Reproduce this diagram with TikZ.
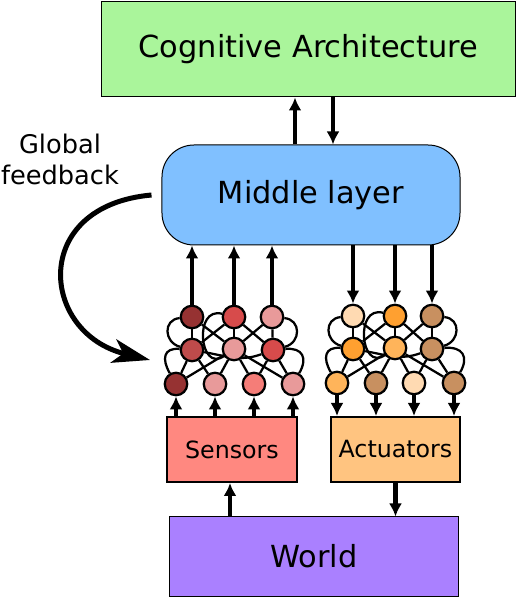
\documentclass[tikz,border=0pt]{standalone}
\usepackage{fontspec}
\setmainfont{DejaVu Sans}
\usetikzlibrary{arrows.meta}
\usetikzlibrary{backgrounds}
\definecolor{cogfill}{RGB}{170,245,155}
\definecolor{midfill}{RGB}{128,192,255}
\definecolor{sensfill}{RGB}{255,136,128}
\definecolor{actfill}{RGB}{255,196,128}
\definecolor{worldfill}{RGB}{170,128,255}
\definecolor{darkred}{RGB}{150,50,50}
\definecolor{brightred}{RGB}{215,75,75}
\definecolor{pinkred}{RGB}{232,154,154}
\definecolor{mixred}{RGB}{190,75,75}
\definecolor{lightred}{RGB}{245,125,120}
\definecolor{peach}{RGB}{255,218,178}
\definecolor{orange}{RGB}{255,160,48}
\definecolor{tan}{RGB}{200,144,96}
\definecolor{lightorange}{RGB}{255,180,90}
\tikzset{box/.style = {draw, line width=0.2mm, inner sep=0pt},
         bigfont/.style = {font=\fontsize{17.3}{20}\selectfont},
         smallfont/.style = {font=\fontsize{13.5}{16}\selectfont},
         neuron/.style = {circle, draw, line width=0.45mm, minimum size=4.5mm, inner sep=0pt},
         link/.style = {line width=0.45mm},
         arr/.style = {line width=0.9mm, -{Latex[length=2.6mm, width=2.6mm]}},
         feedback/.style = {line width=1mm, -{Stealth[length=7.5mm, width=4.8mm, inset=2mm]}}}

% links inside one small network, #1 = prefix of its node names
\newcommand{\netlinks}[1]{
    \draw [link] (#1T1) -- (#1M1);
    \draw [link] (#1T2) -- (#1M2);
    \draw [link] (#1T3) -- (#1M3);
    \draw [link] (#1T1) -- (#1M2);
    \draw [link] (#1T2) -- (#1M1);
    \draw [link] (#1T2) -- (#1M3);
    \draw [link] (#1T3) -- (#1M2);
    \draw [link] (#1T1) to [out=185, in=165, looseness=1.5] (#1M1);
    \draw [link] (#1T3) to [out=-5, in=15, looseness=1.5] (#1M3);
    \draw [link] (#1T2) to [out=165, in=215, looseness=1.8] (#1M2);
    \draw [link] (#1M1) to [out=-10, in=200] (#1M3);
    \draw [link] (#1M1) -- (#1B1);
    \draw [link] (#1M1) -- (#1B2);
    \draw [link] (#1M2) -- (#1B1);
    \draw [link] (#1M2) -- (#1B2);
    \draw [link] (#1M2) -- (#1B3);
    \draw [link] (#1M2) -- (#1B4);
    \draw [link] (#1M3) -- (#1B3);
    \draw [link] (#1M3) -- (#1B4);
    \draw [link] (#1M1) to [out=175, in=120, looseness=1.6] (#1B1);
    \draw [link] (#1M3) to [out=5, in=60, looseness=1.6] (#1B4);
}

\begin{document}
\begin{tikzpicture}[x=0.2mm, y=0.2mm]
    \useasboundingbox (0, 0) rectangle (526, 598);

    \node [box, bigfont, fill=cogfill, minimum width=82.6mm, minimum height=19mm] (cog) at (308.5, 548.5) {Cognitive Architecture};
    \node [box, bigfont, fill=midfill, rounded corners=6.4mm, minimum width=59.6mm, minimum height=20mm] (mid) at (311, 403) {Middle layer};
    \node [box, smallfont, line width=0.4mm, fill=sensfill, minimum width=26mm, minimum height=13mm] (sens) at (232, 148.5) {Sensors};
    \node [box, smallfont, line width=0.4mm, fill=actfill, minimum width=25.8mm, minimum height=13mm] (act) at (395.5, 148.5) {Actuators};
    \node [box, bigfont, fill=worldfill, minimum width=57.6mm, minimum height=15.8mm] (world) at (314, 41.5) {World};

    \node [font=\fontsize{14.6}{17.6}\selectfont, align=center, inner sep=0pt] (fbtext) at (60, 439) {Global\\feedback};
    \coordinate (fbend) at (150, 238);

    % sensor side network
    \node [neuron, fill=darkred] (lT1) at (192, 281) {};
    \node [neuron, fill=brightred] (lT2) at (234, 281) {};
    \node [neuron, fill=pinkred] (lT3) at (272, 281) {};
    \node [neuron, fill=mixred] (lM1) at (192, 248) {};
    \node [neuron, fill=pinkred] (lM2) at (234, 249) {};
    \node [neuron, fill=brightred] (lM3) at (273, 248) {};
    \node [neuron, fill=darkred] (lB1) at (176, 214) {};
    \node [neuron, fill=pinkred] (lB2) at (215, 214) {};
    \node [neuron, fill=lightred] (lB3) at (254, 214) {};
    \node [neuron, fill=pinkred] (lB4) at (293, 214) {};

    % actuator side network
    \node [neuron, fill=peach] (rT1) at (353, 282) {};
    \node [neuron, fill=orange] (rT2) at (395, 282) {};
    \node [neuron, fill=tan] (rT3) at (432, 282) {};
    \node [neuron, fill=orange] (rM1) at (353, 249) {};
    \node [neuron, fill=lightorange] (rM2) at (395, 250) {};
    \node [neuron, fill=tan] (rM3) at (432, 249) {};
    \node [neuron, fill=lightorange] (rB1) at (337, 215) {};
    \node [neuron, fill=tan] (rB2) at (376, 215) {};
    \node [neuron, fill=peach] (rB3) at (414, 215) {};
    \node [neuron, fill=tan] (rB4) at (454, 215) {};

    \begin{pgfonlayer}{background}
        \netlinks{l}
        \netlinks{r}
    \end{pgfonlayer}

    \draw [arr] (mid.north -| 295, 0) -- (cog.south -| 295, 0);
    \draw [arr] (cog.south -| 333, 0) -- (mid.north -| 333, 0);

    \draw [arr] (lT1) -- (lT1 |- mid.south);
    \draw [arr] (lT2) -- (lT2 |- mid.south);
    \draw [arr] (lT3) -- (lT3 |- mid.south);
    \draw [arr] (rT1 |- mid.south) -- (rT1);
    \draw [arr] (rT2 |- mid.south) -- (rT2);
    \draw [arr] (rT3 |- mid.south) -- (rT3);

    \draw [arr] (lB1 |- sens.north) -- (lB1);
    \draw [arr] (lB2 |- sens.north) -- (lB2);
    \draw [arr] (lB3 |- sens.north) -- (lB3);
    \draw [arr] (lB4 |- sens.north) -- (lB4);
    \draw [arr] (rB1) -- (rB1 |- act.north);
    \draw [arr] (rB2) -- (rB2 |- act.north);
    \draw [arr] (rB3) -- (rB3 |- act.north);
    \draw [arr] (rB4) -- (rB4 |- act.north);

    \draw [arr] (world.north -| 230, 0) -- (sens.south -| 230, 0);
    \draw [arr] (act.south) -- (act.south |- world.north);

    \draw [feedback] ([xshift=-2mm]mid.west) .. controls +(-122, -11) and +(-110, 27) .. (fbend);
\end{tikzpicture}
\end{document}
